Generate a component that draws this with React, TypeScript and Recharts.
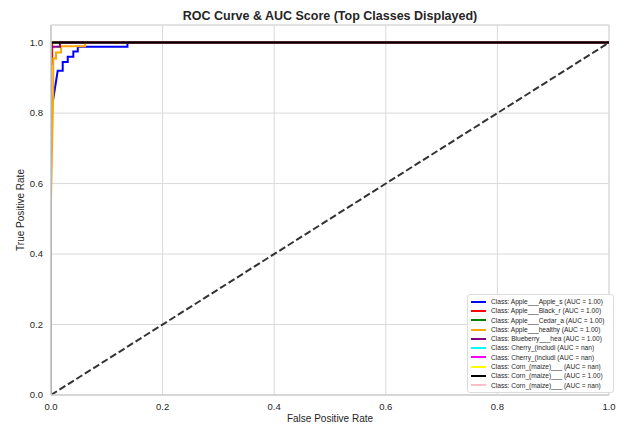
import React from 'react';
import { LineChart, Line, XAxis, YAxis, CartesianGrid, ReferenceLine } from 'recharts';

// class labels as they were truncated in the training notebook
const classNames = [
  'Apple___Apple_s', 'Apple___Black_r', 'Apple___Cedar_a', 'Apple___healthy', 'Blueberry___hea',
  'Cherry_(includi', 'Cherry_(includi', 'Corn_(maize)___', 'Corn_(maize)___', 'Corn_(maize)___',
];
const aucScores = ['1.00', '1.00', '1.00', '1.00', '1.00', 'nan', 'nan', 'nan', '1.00', 'nan'];
const lineColors = ['#0000ff', '#ff0000', '#008000', '#ffa500', '#800080', '#00ffff', '#ff00ff', '#ffff00', '#000000', '#ffc0cb'];

// ROC points as [fpr, tpr]
const appleScabRoc = [
  [0, 0], [0, 0.81], [0.004, 0.84], [0.012, 0.92], [0.021, 0.92], [0.021, 0.945],
  [0.03, 0.945], [0.03, 0.96], [0.04, 0.96], [0.04, 0.975], [0.048, 0.975], [0.048, 0.988],
  [0.137, 0.988], [0.137, 1], [1, 1],
];
const blackRotRoc = [[0, 0], [0, 0.94], [0.002, 0.94], [0.002, 1], [1, 1]];
const cedarRustRoc = [[0, 0], [0, 1], [1, 1]];
const appleHealthyRoc = [
  [0, 0], [0, 0.555], [0.004, 0.86], [0.004, 0.955], [0.009, 0.955], [0.009, 0.972],
  [0.018, 0.972], [0.018, 0.99], [0.061, 0.99], [0.061, 1], [1, 1],
];
const blueberryRoc = [[0, 0], [0, 0.988], [0.016, 0.988], [0.016, 1], [1, 1]];
const cornRoc = [[0, 0], [0, 1], [1, 1]];
const emptyRoc: number[][] = []; // no positives in the test split -> AUC nan

const rocCurves = [
  appleScabRoc, blackRotRoc, cedarRustRoc, appleHealthyRoc, blueberryRoc,
  emptyRoc, emptyRoc, emptyRoc, cornRoc, emptyRoc,
];
const chanceLine = [[0, 0], [1, 1]];

const axisTicks = [0, 0.2, 0.4, 0.6, 0.8, 1.0];

const toPoints = (pts: number[][]) => pts.map(([x, y]) => ({ x, y }));

const FONT = "'Liberation Sans', Arial, sans-serif";
const GRID = '#d9d9d9';
const SPINE = '#bdbdbd';
const TEXT = '#262626';

function RocLegend() {
  return (
    <div style={{
      position: 'absolute', left: 467, top: 294, width: 139,
      border: '1px solid #dcdcdc', borderRadius: 3, background: '#fff',
      padding: '2px 3px', fontFamily: FONT, fontSize: 6.6, lineHeight: '9.3px',
    }}>
      {classNames.map((name, i) => (
        <div key={i} style={{ display: 'flex', alignItems: 'center', height: 9.3 }}>
          <span style={{ width: 15, height: 2, background: lineColors[i], marginRight: 5, flexShrink: 0 }} />
          <span style={{ color: TEXT, whiteSpace: 'nowrap' }}>
            {`Class: ${name} (AUC = ${aucScores[i]})`}
          </span>
        </div>
      ))}
    </div>
  );
}

export default function App() {
  return (
    <div style={{ position: 'absolute', left: 0, top: 0, width: 621, height: 424, background: '#fff', fontFamily: FONT }}>
      <div style={{ position: 'absolute', left: 51, top: 9, width: 558, textAlign: 'center', fontSize: 12.5, fontWeight: 'bold', color: TEXT }}>
        ROC Curve &amp; AUC Score (Top Classes Displayed)
      </div>
      <LineChart width={621} height={424} margin={{ top: 25, right: 12, bottom: 0, left: 0 }}>
        <CartesianGrid stroke={GRID} strokeWidth={1} />
        <XAxis
          type="number"
          dataKey="x"
          domain={[0, 1]}
          ticks={axisTicks}
          tickFormatter={(v: number) => v.toFixed(1)}
          tickLine={false}
          axisLine={{ stroke: GRID }}
          height={29}
          tick={{ fontSize: 9.5, fill: TEXT, fontFamily: FONT }}
          tickMargin={2}
          allowDataOverflow
          label={{ value: 'False Positive Rate', position: 'insideBottom', offset: 2, style: { fontSize: 10, fill: TEXT, fontFamily: FONT } }}
        />
        <YAxis
          type="number"
          dataKey="y"
          domain={[0, 1.05]}
          ticks={axisTicks}
          tickFormatter={(v: number) => v.toFixed(1)}
          tickLine={false}
          axisLine={{ stroke: GRID }}
          width={51}
          tick={{ fontSize: 9.5, fill: TEXT, fontFamily: FONT }}
          tickMargin={2}
          allowDataOverflow
          label={{ value: 'True Positive Rate', angle: -90, position: 'insideLeft', offset: 20, style: { textAnchor: 'middle', fontSize: 10, fill: TEXT, fontFamily: FONT } }}
        />
        <ReferenceLine y={1.05} stroke={GRID} />
        <ReferenceLine x={1} stroke={GRID} />
        {rocCurves.map((pts, i) => (
          <Line
            key={i}
            data={toPoints(pts)}
            dataKey="y"
            type="linear"
            stroke={lineColors[i]}
            strokeWidth={2}
            dot={false}
            activeDot={false}
            isAnimationActive={false}
          />
        ))}
        <Line
          data={toPoints(chanceLine)}
          dataKey="y"
          type="linear"
          stroke="#333333"
          strokeWidth={2}
          strokeDasharray="7 3"
          dot={false}
          activeDot={false}
          legendType="none"
          isAnimationActive={false}
        />
        {/* left spine sits above the curves, as in the matplotlib original */}
        <ReferenceLine x={0} stroke={SPINE} strokeWidth={1.5} />
        <ReferenceLine y={0} stroke={SPINE} strokeWidth={1.2} />
      </LineChart>
      <RocLegend />
    </div>
  );
}
